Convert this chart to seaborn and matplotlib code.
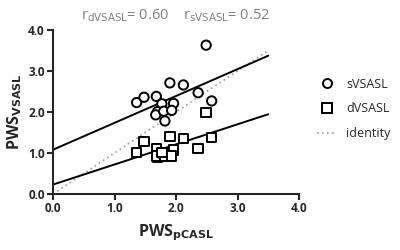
import numpy as np
import pandas as pd
import matplotlib
matplotlib.use("Agg")
import matplotlib.pyplot as plt
import seaborn as sns
from matplotlib.lines import Line2D

# PWS values
s_pcasl = [1.36, 1.48, 1.68, 1.77, 1.96, 1.90, 2.12, 2.36, 2.49, 2.58, 1.70, 1.67, 1.80, 1.93, 1.82]
s_vsasl = [2.23, 2.36, 2.38, 2.20, 2.21, 2.71, 2.66, 2.47, 3.63, 2.27, 2.01, 1.93, 2.02, 2.04, 1.78]
d_pcasl = [1.36, 1.48, 1.68, 1.70, 1.68, 1.80, 1.82, 1.77, 1.90, 1.96, 1.93, 2.12, 2.36, 2.49, 2.58]
d_vsasl = [1.02, 1.28, 1.10, 0.89, 0.93, 0.99, 0.92, 1.02, 1.40, 1.07, 0.93, 1.35, 1.11, 1.98, 1.37]

# linear fits (intercept, slope)
fit_s = (1.08, 0.655)
fit_d = (0.23, 0.49)
fit_x = [0.0, 3.5]

df = pd.DataFrame({
    "pcasl": s_pcasl + d_pcasl,
    "vsasl": s_vsasl + d_vsasl,
    "method": ["sVSASL"] * len(s_pcasl) + ["dVSASL"] * len(d_pcasl),
})

sns.set_style("ticks")
plt.rcParams["font.family"] = ["Open Sans", "DejaVu Sans"]

fig = plt.figure(figsize=(4, 2.5), dpi=100)
ax = fig.add_axes([0.1325, 0.224, 0.615, 0.656])

fx = np.array(fit_x)
ax.plot(fx, fit_s[0] + fit_s[1] * fx, color="black", lw=1.4, zorder=2)
ax.plot(fx, fit_d[0] + fit_d[1] * fx, color="black", lw=1.4, zorder=2)
ax.plot(fx, fx, color="#999999", lw=1.2, ls=(0, (1, 2)), zorder=1)

sns.scatterplot(data=df, x="pcasl", y="vsasl", style="method",
                markers={"sVSASL": "o", "dVSASL": "s"},
                facecolor="white", edgecolor="black", linewidth=1.4, s=45,
                ax=ax, zorder=3, legend=False)

ax.set_xlim(0, 4)
ax.set_ylim(0, 4)
ax.set_xticks([0, 1, 2, 3, 4])
ax.set_yticks([0, 1, 2, 3, 4])
ax.set_xticklabels(["0.0", "1.0", "2.0", "3.0", "4.0"], fontweight="bold", fontsize=8.5)
ax.set_yticklabels(["0.0", "1.0", "2.0", "3.0", "4.0"], fontweight="bold", fontsize=8.5)
for sp in ["top", "right"]:
    ax.spines[sp].set_visible(False)
for sp in ["left", "bottom"]:
    ax.spines[sp].set_linewidth(1.5)
ax.tick_params(width=1.5, length=4, direction="out", pad=2)

ax.set_xlabel(r"PWS$_{\mathbf{pCASL}}$", fontweight="bold", fontsize=11.5, labelpad=5)
ax.set_ylabel(r"PWS$_{\mathbf{VSASL}}$", fontweight="bold", fontsize=11.5, labelpad=3)
ax.set_title(r"r$_{\mathrm{dVSASL}}$= 0.60    r$_{\mathrm{sVSASL}}$= 0.52",
             color="#808080", fontsize=10.5, pad=8)

handles = [
    Line2D([], [], marker="o", ls="", mfc="white", mec="black", mew=1.4, ms=6.5),
    Line2D([], [], marker="s", ls="", mfc="white", mec="black", mew=1.4, ms=6.5),
    Line2D([], [], color="#999999", lw=1.2, ls=(0, (1, 2))),
]
fig.legend(handles, ["sVSASL", "dVSASL", "identity"], loc="upper left",
           bbox_to_anchor=(0.765, 0.735), frameon=False, fontsize=9,
           handlelength=1.5, labelspacing=0.95, handletextpad=0.8)

fig.savefig("out.png", dpi=100)
